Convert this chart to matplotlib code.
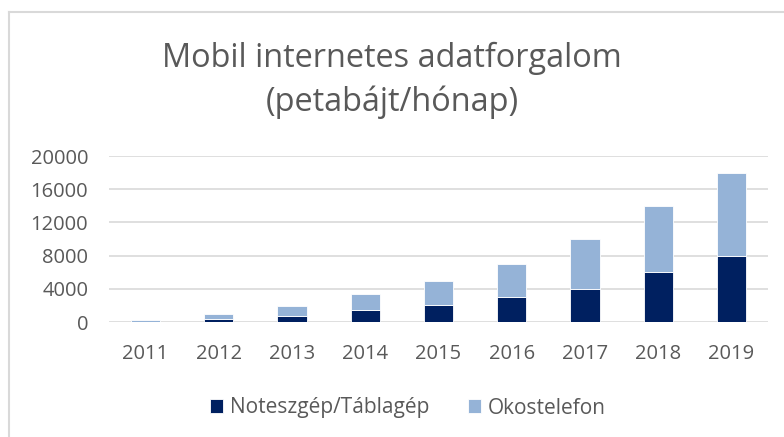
import numpy as np
import matplotlib
matplotlib.use("Agg")
import matplotlib.pyplot as plt
from matplotlib.lines import Line2D

years = ["2011", "2012", "2013", "2014", "2015", "2016", "2017", "2018", "2019"]
noteszgep = [50, 400, 700, 1500, 2000, 3000, 4000, 6000, 8000]
okostelefon = [150, 600, 1200, 1900, 3000, 4000, 6000, 8000, 10000]
yticks = [0, 4000, 8000, 12000, 16000, 20000]

dark = "#002060"
light = "#95B3D7"
txt = "#595959"
grid = "#D9D9D9"

plt.rcParams['font.family'] = ['Open Sans', 'DejaVu Sans']

W, H = 784, 437
fig = plt.figure(figsize=(W / 100, H / 100), dpi=100)
ax = fig.add_axes([109 / W, 1 - 322 / H, (768 - 109) / W, (322 - 156) / H])

x = np.arange(len(years))
ax.bar(x, noteszgep, width=0.4, color=dark, edgecolor="white", linewidth=0.6,
       label="Noteszgép/Táblagép", zorder=3)
ax.bar(x, okostelefon, width=0.4, bottom=noteszgep, color=light, edgecolor="white",
       linewidth=0.6, label="Okostelefon", zorder=3)

ax.set_xlim(-0.5, len(years) - 0.5)
ax.set_ylim(0, 20000)
ax.set_yticks(yticks)
ax.set_yticklabels([str(v) for v in yticks])
ax.set_xticks(x)
ax.set_xticklabels(years)
ax.tick_params(axis="both", length=0, labelsize=14.5, colors=txt)
ax.tick_params(axis="y", pad=15)
ax.tick_params(axis="x", pad=16)
for s in ax.spines.values():
    s.set_visible(False)
ax.yaxis.grid(True, color=grid, linewidth=1.2, zorder=0)
ax.set_axisbelow(True)

fig.text(0.5, 1 - 58 / H, "Mobil internetes adatforgalom", ha="center", va="center",
         fontsize=23.4, color=txt)
fig.text(0.5, 1 - 102 / H, "(petabájt/hónap)", ha="center", va="center",
         fontsize=23.4, color=txt)

leg = fig.legend(loc="center", bbox_to_anchor=(408 / W, 1 - 408 / H), ncol=2, frameon=False,
                 fontsize=15, handlelength=0.62, handleheight=0.62, handletextpad=0.3,
                 columnspacing=1.9)
for t in leg.get_texts():
    t.set_color(txt)

# chart border (top and left edges visible)
fig.add_artist(Line2D([9 / W, 9 / W], [0, 1 - 12 / H], transform=fig.transFigure,
                      color=grid, linewidth=1.5))
fig.add_artist(Line2D([9 / W, 1], [1 - 12 / H, 1 - 12 / H], transform=fig.transFigure,
                      color=grid, linewidth=1.5))

fig.savefig("out.png", dpi=100, facecolor="white")
